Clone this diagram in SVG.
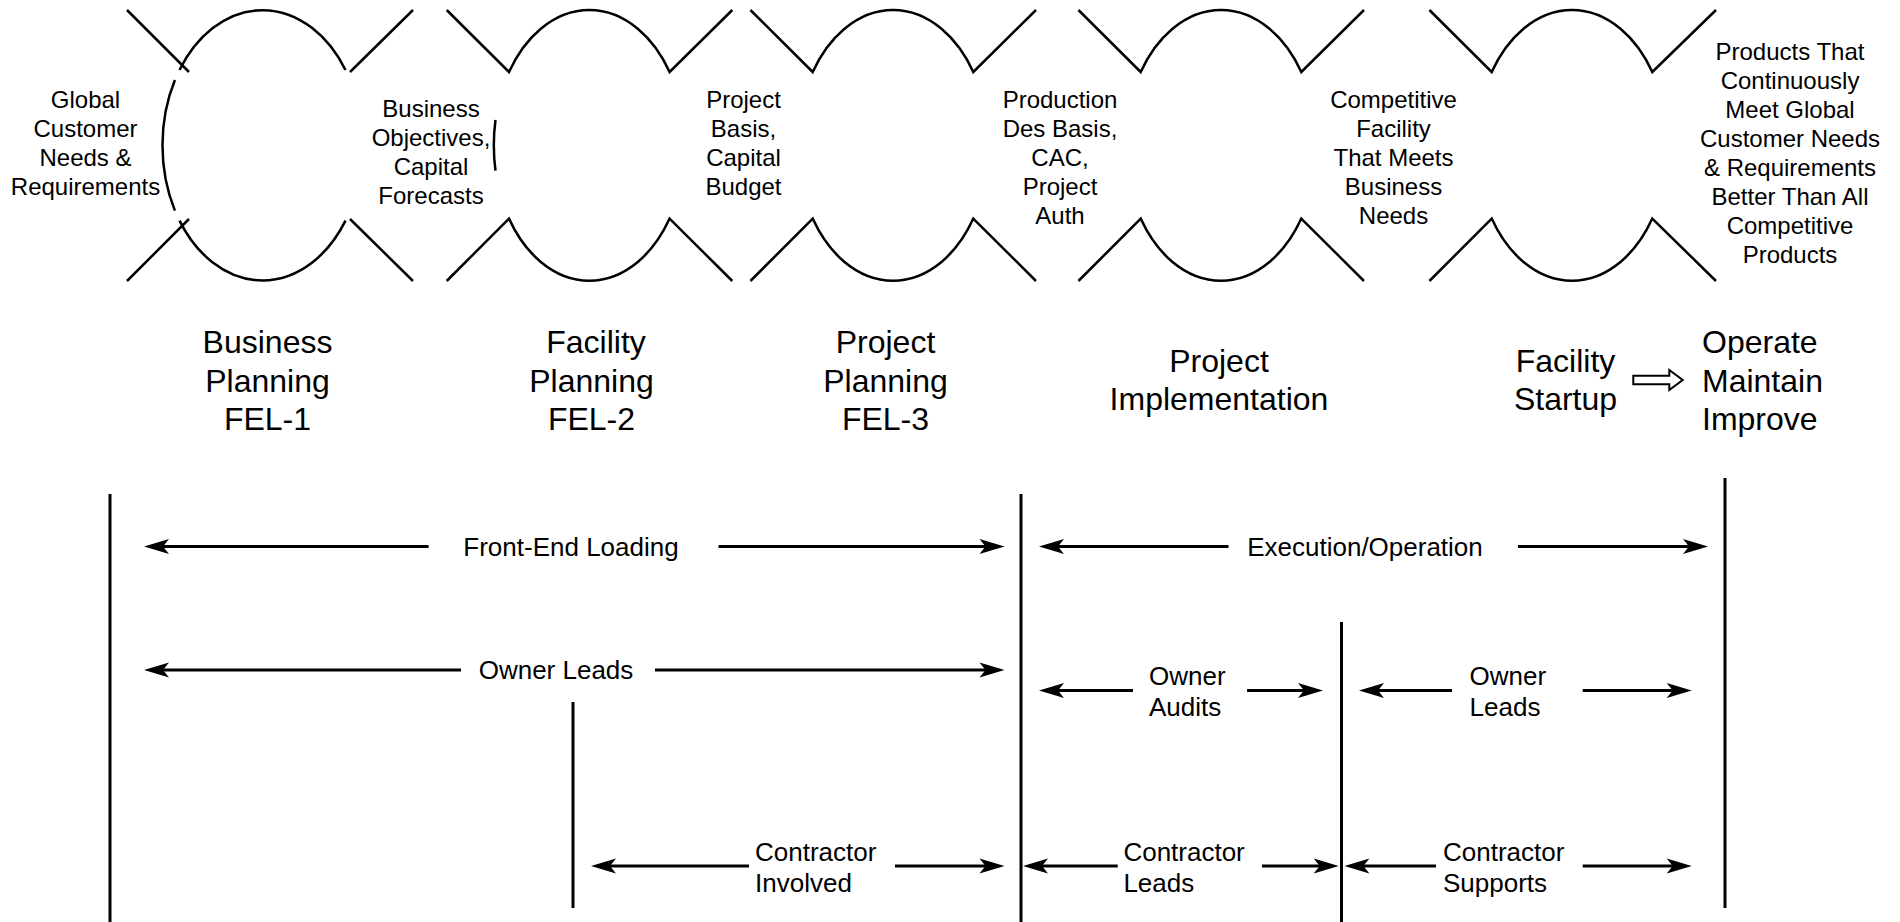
<svg xmlns="http://www.w3.org/2000/svg" width="1900" height="922" viewBox="0 0 1900 922">
<style>
.bg{fill:#ffffff}
.sh{fill:none;stroke:#000;stroke-width:2.5}
.vl{stroke:#000;stroke-width:3}
.ar{stroke:#000;stroke-width:3;fill:none}
.t24{font-family:"Liberation Sans",Arial,sans-serif;font-size:24px;fill:#000;text-anchor:middle}
.t32{font-family:"Liberation Sans",Arial,sans-serif;font-size:32px;fill:#000;text-anchor:middle}
.t26{font-family:"Liberation Sans",Arial,sans-serif;font-size:26px;fill:#000;text-anchor:middle}
.l{text-anchor:start}
</style>
<defs>
<marker id="ah" markerUnits="userSpaceOnUse" markerWidth="46" markerHeight="18" viewBox="-26 -9 46 18" refX="-18" refY="0" orient="auto">
<path d="M0,0 L-25,-7.5 L-19,0 L-25,7.5 Z" fill="#000"/>
</marker>
</defs>
<rect class="bg" x="0" y="0" width="1900" height="922"/>

<g id="shape-1">
<path class="sh" d="M127,10 L189,72 M350,72 L413,10 M127,281 L189,219 M350,219 L413,281"/>
<path class="sh" d="M179.5,70 A100 135.3 0 0 1 345.5,70 M179.5,220.6 A100 135.3 0 0 0 345.5,220.6 M174.9,80 A100 135.3 0 0 0 174.9,210.6"/>
</g>
<g id="shape-2">
<path class="sh" d="M446.7,10 L509,72 A95.5 135.3 0 0 1 669.6,72 L732.3,10 M446.7,281 L509,218.6 A95.5 135.3 0 0 0 669.6,218.6 L732.3,281"/>
<path class="sh" d="M495.5,120 A95.5 135.3 0 0 0 495.5,170.6"/>
</g>
<g id="shape-3">
<path class="sh" d="M750.4,10 L812.7,72 A95.5 135.3 0 0 1 973.3,72 L1036,10 M750.4,281 L812.7,218.6 A95.5 135.3 0 0 0 973.3,218.6 L1036,281"/>
</g>
<g id="shape-4">
<path class="sh" d="M1078.4,10 L1140.7,72 A95.5 135.3 0 0 1 1301.3,72 L1364,10 M1078.4,281 L1140.7,218.6 A95.5 135.3 0 0 0 1301.3,218.6 L1364,281"/>
</g>
<g id="shape-5">
<path class="sh" d="M1429.4,10 L1491.7,72 A95.5 135.3 0 0 1 1652.3,72 L1716,10 M1429.4,281 L1491.7,218.6 A95.5 135.3 0 0 0 1652.3,218.6 L1716,281"/>
</g>

<g id="out-global">
<text class="t24" x="85.5" y="107.5">Global</text>
<text class="t24" x="85.5" y="136.5">Customer</text>
<text class="t24" x="85.5" y="165.5">Needs &amp;</text>
<text class="t24" x="85.5" y="194.5">Requirements</text>
</g>
<g id="out-business">
<text class="t24" x="431" y="116.5">Business</text>
<text class="t24" x="431" y="145.5">Objectives,</text>
<text class="t24" x="431" y="174.5">Capital</text>
<text class="t24" x="431" y="203.5">Forecasts</text>
</g>
<g id="out-project">
<text class="t24" x="743.5" y="107.5">Project</text>
<text class="t24" x="743.5" y="136.5">Basis,</text>
<text class="t24" x="743.5" y="165.5">Capital</text>
<text class="t24" x="743.5" y="194.5">Budget</text>
</g>
<g id="out-production">
<text class="t24" x="1060" y="107.5">Production</text>
<text class="t24" x="1060" y="136.5">Des Basis,</text>
<text class="t24" x="1060" y="165.5">CAC,</text>
<text class="t24" x="1060" y="194.5">Project</text>
<text class="t24" x="1060" y="223.5">Auth</text>
</g>
<g id="out-competitive">
<text class="t24" x="1393.5" y="107.5">Competitive</text>
<text class="t24" x="1393.5" y="136.5">Facility</text>
<text class="t24" x="1393.5" y="165.5">That Meets</text>
<text class="t24" x="1393.5" y="194.5">Business</text>
<text class="t24" x="1393.5" y="223.5">Needs</text>
</g>
<g id="out-products">
<text class="t24" x="1790" y="59.5">Products That</text>
<text class="t24" x="1790" y="88.5">Continuously</text>
<text class="t24" x="1790" y="117.5">Meet Global</text>
<text class="t24" x="1790" y="146.5">Customer Needs</text>
<text class="t24" x="1790" y="175.5">&amp; Requirements</text>
<text class="t24" x="1790" y="204.5">Better Than All</text>
<text class="t24" x="1790" y="233.5">Competitive</text>
<text class="t24" x="1790" y="262.5">Products</text>
</g>

<g id="phase-fel1">
<text class="t32" x="267.5" y="353.3">Business</text>
<text class="t32" x="267.5" y="391.7">Planning</text>
<text class="t32" x="267.5" y="430">FEL-1</text>
</g>
<g id="phase-fel2">
<text class="t32" x="596" y="353.3">Facility</text>
<text class="t32" x="591.5" y="391.7">Planning</text>
<text class="t32" x="591.5" y="430">FEL-2</text>
</g>
<g id="phase-fel3">
<text class="t32" x="885.5" y="353.3">Project</text>
<text class="t32" x="885.5" y="391.7">Planning</text>
<text class="t32" x="885.5" y="430">FEL-3</text>
</g>
<g id="phase-impl">
<text class="t32" x="1219" y="371.7">Project</text>
<text class="t32" x="1219" y="410">Implementation</text>
</g>
<g id="phase-startup">
<text class="t32" x="1565.5" y="371.7">Facility</text>
<text class="t32" x="1565.5" y="410">Startup</text>
</g>
<g id="phase-operate">
<text class="t32 l" x="1702" y="353.3">Operate</text>
<text class="t32 l" x="1702" y="391.7">Maintain</text>
<text class="t32 l" x="1702" y="430">Improve</text>
</g>

<g id="dividers">
<line class="vl" x1="110" y1="494" x2="110" y2="922"/>
<line class="vl" x1="1021" y1="494" x2="1021" y2="922"/>
<line class="vl" x1="1725" y1="478" x2="1725" y2="908"/>
<line class="vl" x1="573" y1="702" x2="573" y2="908"/>
<line class="vl" x1="1341.5" y1="622" x2="1341.5" y2="922"/>
</g>

<g id="labels">
<text class="t26" x="571" y="556">Front-End Loading</text>
<text class="t26" x="1365" y="556">Execution/Operation</text>
<text class="t26" x="556" y="679">Owner Leads</text>
<text class="t26 l" x="1149" y="685">Owner</text>
<text class="t26 l" x="1149" y="716">Audits</text>
<text class="t26 l" x="1469.6" y="685">Owner</text>
<text class="t26 l" x="1469.6" y="716">Leads</text>
<text class="t26 l" x="755" y="861">Contractor</text>
<text class="t26 l" x="755" y="892">Involved</text>
<text class="t26 l" x="1123.4" y="861">Contractor</text>
<text class="t26 l" x="1123.4" y="892">Leads</text>
<text class="t26 l" x="1443" y="861">Contractor</text>
<text class="t26 l" x="1443" y="892">Supports</text>
</g>

<g id="connectors">
<line class="ar" x1="428.6" y1="546.5" x2="162" y2="546.5" marker-end="url(#ah)"/>
<line class="ar" x1="718.5" y1="546.5" x2="986.5" y2="546.5" marker-end="url(#ah)"/>
<line class="ar" x1="1228.5" y1="546.5" x2="1057" y2="546.5" marker-end="url(#ah)"/>
<line class="ar" x1="1518" y1="546.5" x2="1690" y2="546.5" marker-end="url(#ah)"/>
<line class="ar" x1="461" y1="670" x2="162" y2="670" marker-end="url(#ah)"/>
<line class="ar" x1="655" y1="670" x2="986.5" y2="670" marker-end="url(#ah)"/>
<line class="ar" x1="1133" y1="690.5" x2="1057" y2="690.5" marker-end="url(#ah)"/>
<line class="ar" x1="1247" y1="690.5" x2="1305" y2="690.5" marker-end="url(#ah)"/>
<line class="ar" x1="1452" y1="690.5" x2="1377" y2="690.5" marker-end="url(#ah)"/>
<line class="ar" x1="1582.7" y1="690.5" x2="1673.7" y2="690.5" marker-end="url(#ah)"/>
<line class="ar" x1="749" y1="866" x2="609" y2="866" marker-end="url(#ah)"/>
<line class="ar" x1="895" y1="866" x2="986.5" y2="866" marker-end="url(#ah)"/>
<line class="ar" x1="1117.7" y1="866" x2="1041" y2="866" marker-end="url(#ah)"/>
<line class="ar" x1="1262" y1="866" x2="1320.7" y2="866" marker-end="url(#ah)"/>
<line class="ar" x1="1436" y1="866" x2="1362.4" y2="866" marker-end="url(#ah)"/>
<line class="ar" x1="1582.7" y1="866" x2="1673.7" y2="866" marker-end="url(#ah)"/>
<path id="startup-arrow" d="M1633.3,375.7 L1669.3,375.7 L1669.3,370 L1682.7,380 L1669.3,390 L1669.3,384.3 L1633.3,384.3 Z" fill="#fff" stroke="#000" stroke-width="2"/>
</g>
</svg>
